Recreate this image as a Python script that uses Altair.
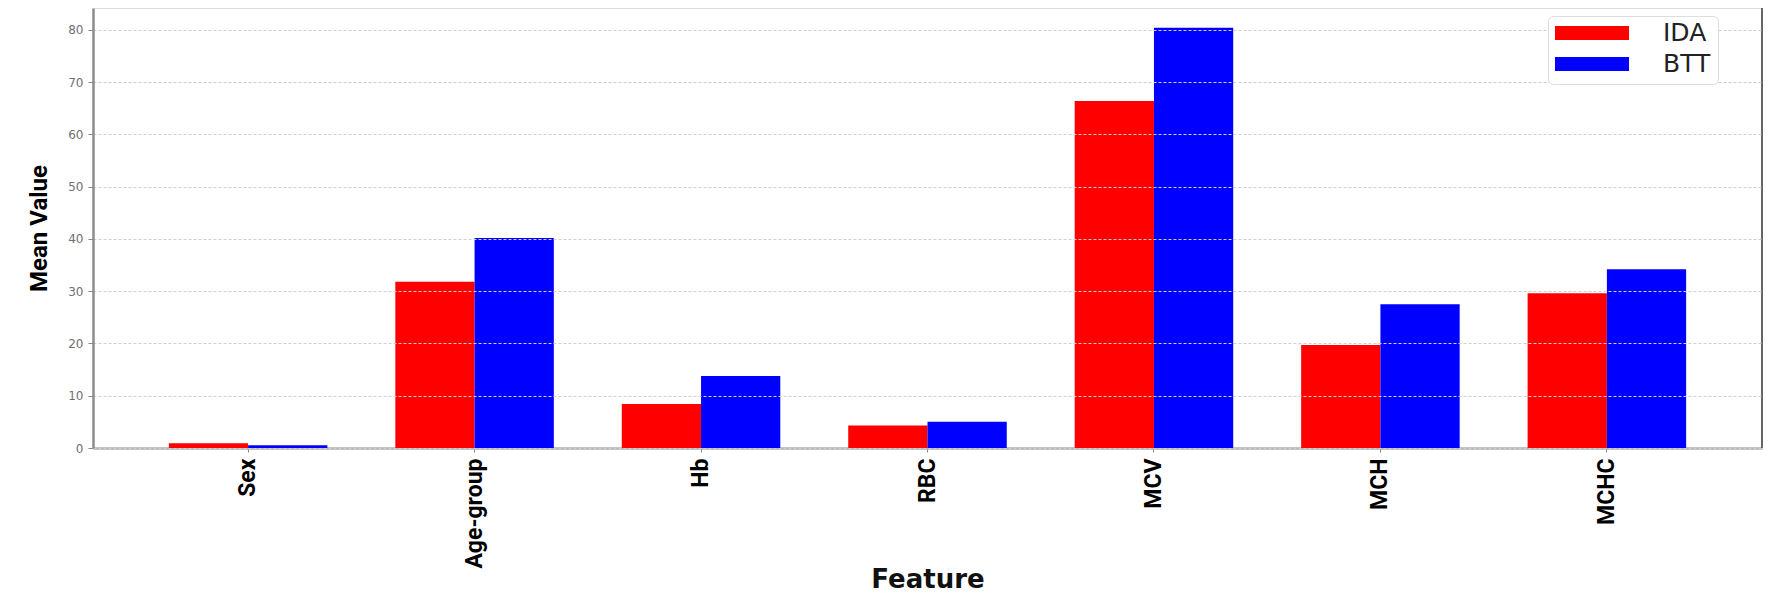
import altair as alt
import pandas as pd

features = ["Sex", "Age-group", "Hb", "RBC", "MCV", "MCH", "MCHC"]
groups = ["IDA", "BTT"]
ida_values = [0.9, 31.8, 8.4, 4.3, 66.4, 19.7, 29.6]
btt_values = [0.55, 40.2, 13.8, 5.0, 80.4, 27.5, 34.2]
y_ticks = [0, 10, 20, 30, 40, 50, 60, 70, 80]
colors = ["#ff0000", "#0000ff"]

rows = []
for f, a, b in zip(features, ida_values, btt_values):
    rows.append({"Feature": f, "Group": "IDA", "Mean Value": a})
    rows.append({"Feature": f, "Group": "BTT", "Mean Value": b})
df = pd.DataFrame(rows)

W, H = 1669, 440
NARROW = "Roboto, Liberation Sans, sans-serif"
WIDE = "DejaVu Sans, Verdana, sans-serif"

bar_path = "M-1,-0.19L1,-0.19L1,0.19L-1,0.19Z"

bars = alt.Chart(df).mark_bar(strokeWidth=0).encode(
    x=alt.X(
        "Feature:N",
        sort=features,
        scale=alt.Scale(paddingInner=0.3, paddingOuter=0.335),
        axis=alt.Axis(
            title="Feature",
            labelAngle=270,
            labelFont=NARROW,
            labelFontSize=23,
            labelFontWeight="bold",
            labelColor="#000000",
            labelPadding=6,
            tickSize=4,
            tickColor="#888888",
            domainColor="#b0b0b0",
            domainWidth=2.5,
            titleFont=WIDE,
            titleFontSize=26,
            titleFontWeight="bold",
            titleColor="#111111",
            titleX=W / 2,
            titleY=131,
            titleAlign="center",
            titleBaseline="middle",
            grid=False,
        ),
    ),
    xOffset=alt.XOffset("Group:N", sort=groups, scale=alt.Scale(paddingInner=0, paddingOuter=0)),
    y=alt.Y(
        "Mean Value:Q",
        scale=alt.Scale(domain=[0, 84.2], nice=False, zero=True),
        axis=alt.Axis(
            title="Mean Value",
            values=y_ticks,
            labelFont=WIDE,
            labelFontSize=12,
            labelColor="#707070",
            labelPadding=5,
            tickSize=5,
            tickColor="#888888",
            domainColor="#8c8c8c",
            domainWidth=2.5,
            grid=True,
            gridColor="#cfcfcf",
            gridDash=[3, 2],
            gridWidth=1,
            zindex=1,
            titleFont=NARROW,
            titleFontSize=24,
            titleFontWeight="bold",
            titleColor="#000000",
            titleAngle=270,
            titleX=-54,
            titleY=H / 2,
            titleAlign="center",
            titleBaseline="middle",
        ),
    ),
    color=alt.Color(
        "Group:N",
        sort=groups,
        scale=alt.Scale(domain=groups, range=colors),
        legend=alt.Legend(
            title=None,
            orient="none",
            legendX=1455,
            legendY=8,
            symbolType=bar_path,
            symbolSize=5476,
            symbolStrokeWidth=0,
            labelFont=WIDE,
            labelFontSize=25,
            labelColor="#222222",
            labelOffset=34,
            clipHeight=20,
            rowPadding=6,
            padding=7,
            fillColor="#ffffff",
            strokeColor="#dddddd",
            cornerRadius=5,
            zindex=2,
        ),
    ),
)

right_spine = alt.Chart(df).mark_rule(color="#666666", strokeWidth=2).encode(
    x=alt.value(W), y=alt.value(0), y2=alt.value(H)
)

chart = (
    alt.layer(bars, right_spine)
    .properties(
        width=W,
        height=H,
        autosize=alt.AutoSizeParams(type="none"),
        padding={"left": 85, "top": 0, "right": 2, "bottom": 150},
    )
    .configure_view(stroke="#e6e6e6", strokeWidth=1)
    .configure(background="#ffffff")
)

chart.save("out.html", embed_options={"renderer": "svg", "actions": False})
